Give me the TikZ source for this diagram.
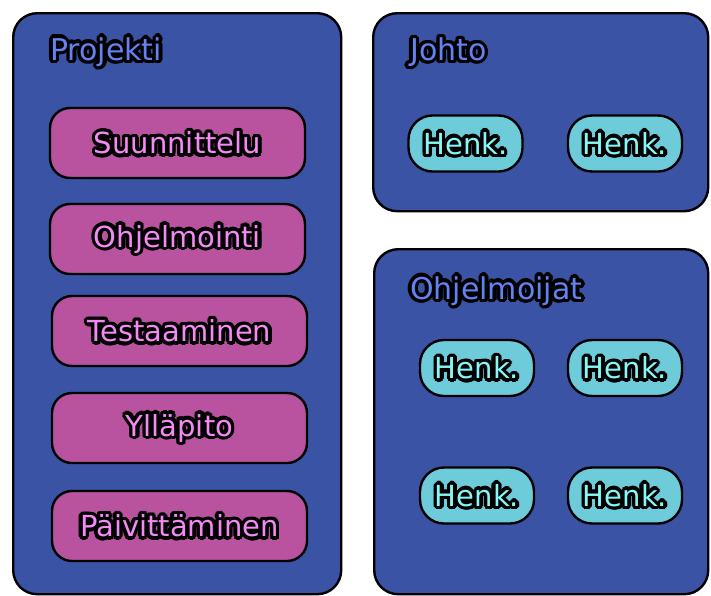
\documentclass[tikz,border=0pt]{standalone}
\usepackage{fontspec}
\setmainfont{DejaVu Sans}
\usetikzlibrary{calc}

\definecolor{panelblue}{HTML}{3A53A4}
\definecolor{titleblue}{HTML}{6383F2}
\definecolor{taskpink}{HTML}{B9529F}
\definecolor{tasktext}{HTML}{F58AF5}
\definecolor{personcyan}{HTML}{6ECCDA}
\definecolor{persontext}{HTML}{8AF7F7}

% outlined label: black copies in three rings, the coloured copy on top
% #1 name, #2 position, #3 style, #4 fill colour, #5 text
\newcommand\olabel[5]{%
  \foreach \a in {0,20,...,340}{%
    \node[#3, text=black] at ($#2+(\a:3.4pt)$) {#5};
    \node[#3, text=black] at ($#2+(\a+10:2.3pt)$) {#5};
    \node[#3, text=black] at ($#2+(\a:1.2pt)$) {#5};}%
  \node[#3, text=#4] (#1) at #2 {#5};%
}

\tikzset{
  panel/.style={draw=black, line width=2.4pt, fill=panelblue, rounded corners=24pt,
    inner sep=0pt, anchor=north west},
  task/.style={draw=black, line width=2.4pt, fill=taskpink, rounded corners=20pt,
    minimum width=255pt, minimum height=70pt, inner sep=0pt},
  person/.style={draw=black, line width=2.4pt, fill=personcyan, rounded corners=24pt,
    minimum width=114pt, minimum height=56pt, inner sep=0pt},
  tasklabel/.style={inner sep=0pt, font=\fontsize{29}{32}\selectfont},
  personlabel/.style={inner sep=0pt, font=\fontsize{29}{32}\selectfont},
  titlelabel/.style={anchor=west, inner sep=0pt, font=\fontsize{30}{33}\selectfont},
}

\begin{document}
\begin{tikzpicture}[x=1pt, y=-1pt]
  \useasboundingbox (0,0) rectangle (711,595);

  % panels
  \node[panel, minimum width=328pt, minimum height=581pt] (proj) at (12,12) {};
  \node[panel, minimum width=335pt, minimum height=198pt] (johto) at (372,12) {};
  \node[panel, minimum width=334pt, minimum height=345pt] (ohj) at (373,248) {};

  % panel titles
  \olabel{tproj}{(50,52)}{titlelabel}{titleblue}{Projekti}
  \olabel{tjohto}{(410,52)}{titlelabel}{titleblue}{Johto}
  \olabel{tohj}{(410,291)}{titlelabel}{titleblue}{Ohjelmoijat}

  % project phases
  \node[task] (t1) at (177.5,143) {};
  \node[task] (t2) at (177.5,239) {};
  \node[task] (t3) at (179.5,331) {};
  \node[task] (t4) at (179.5,428) {};
  \node[task] (t5) at (179.5,526) {};
  \olabel{l1}{(t1)}{tasklabel}{tasktext}{Suunnittelu}
  \olabel{l2}{(t2)}{tasklabel}{tasktext}{Ohjelmointi}
  \olabel{l3}{(t3)}{tasklabel}{tasktext}{Testaaminen}
  \olabel{l4}{(t4)}{tasklabel}{tasktext}{Ylläpito}
  \olabel{l5}{(t5)}{tasklabel}{tasktext}{Päivittäminen}

  % management
  \node[person] (j1) at (465.5,143.5) {};
  \node[person] (j2) at (625,143.5) {};

  % programmers
  \node[person] (p1) at (477,368) {};
  \node[person] (p2) at (625,368) {};
  \node[person] (p3) at (477,495.5) {};
  \node[person] (p4) at (625,495.5) {};

  \foreach \p in {j1,j2,p1,p2,p3,p4}{%
    \olabel{h\p}{(\p)}{personlabel}{persontext}{Henk.}}
\end{tikzpicture}
\end{document}
